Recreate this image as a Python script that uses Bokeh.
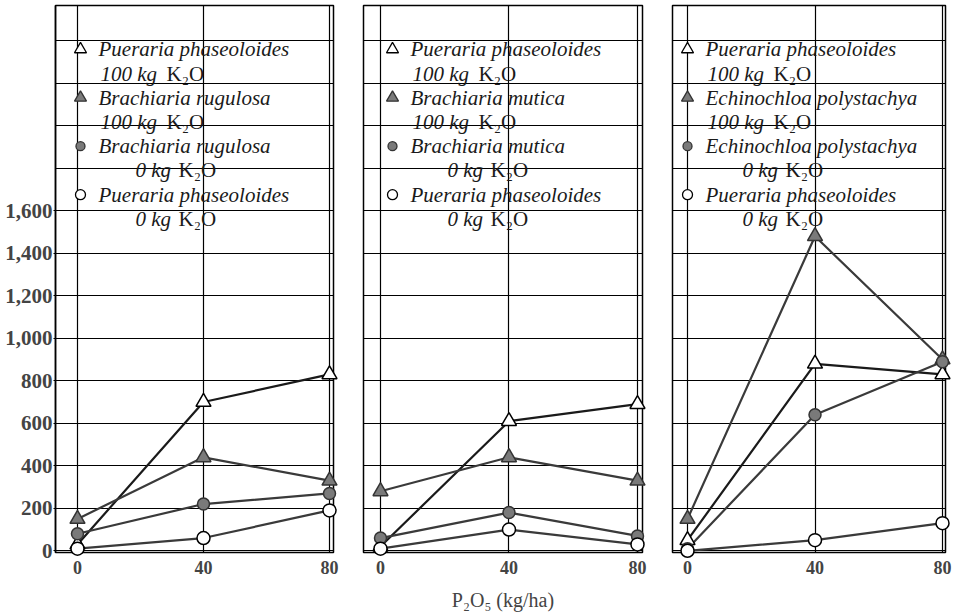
from bokeh.plotting import figure
from bokeh.layouts import row
from bokeh.models import Label, FixedTicker, NumeralTickFormatter, Range1d, Grid
from bokeh.embed import file_html
from bokeh.resources import INLINE

# ---------------- data ----------------
p2o5 = [0, 40, 80]
x_ticks = [0, 40, 80]
y_ticks = [0, 200, 400, 600, 800, 1000, 1200, 1400, 1600]
y_grid = [0, 200, 400, 600, 800, 1000, 1200, 1400, 1600, 1800, 2000, 2200, 2400]

pueraria_name = "Pueraria phaseoloides"
grass_names = ["Brachiaria rugulosa", "Brachiaria mutica", "Echinochloa polystachya"]

pueraria_k100 = [[30, 700, 830], [20, 610, 690], [50, 880, 830]]
grass_k100 = [[150, 440, 330], [280, 440, 330], [150, 1480, 900]]
grass_k0 = [[80, 220, 270], [60, 180, 70], [10, 640, 890]]
pueraria_k0 = [[10, 60, 190], [10, 100, 30], [0, 50, 130]]

k_rates = ["100 kg", "100 kg", "0 kg", "0 kg"]
x_label = "P\u2082O\u2085 (kg/ha)"
k2o = "K\u2082O"

# ---------------- styles ----------------
SERIF = "Liberation Serif"
TOP = 5
B = 61
H = TOP + 547 + B
styles = [
    dict(marker="triangle", fill_color="white", line_color="black", size=15),
    dict(marker="triangle", fill_color="#7a7a7a", line_color="#333333", size=15),
    dict(marker="circle", fill_color="#7a7a7a", line_color="#333333", size=12),
    dict(marker="circle", fill_color="white", line_color="black", size=13),
]
line_colors = ["#1a1a1a", "#3a3a3a", "#3a3a3a", "#3a3a3a"]

panels = [
    dict(width=348, bl=55, br=15, xr=(-6.98, 81.27), mk_px=3, show_y=True, show_xl=False, ppu=3.15),
    dict(width=309, bl=15, br=15, xr=(-5.29, 81.56), mk_px=12, show_y=False, show_xl=True, ppu=3.21),
    dict(width=296, bl=15, br=8, xr=(-4.71, 80.94), mk_px=0, show_y=False, show_xl=False, ppu=3.19),
]

legend_top = 2360
step = 114


def legend_label(p, y, xoff, text, style, background):
    kw = dict(x=0, y=y, x_offset=xoff, text=text, text_font=SERIF,
              text_font_style=style, text_font_size="21px", text_baseline="middle")
    if background:
        p.add_layout(Label(text_alpha=0.0, background_fill_color="white",
                           background_fill_alpha=1.0, padding=4, **kw))
    else:
        p.add_layout(Label(text_color="#1a1a1a", **kw))


figs = []
for i, cfg in enumerate(panels):
    p = figure(width=cfg["width"], height=H,
               x_range=Range1d(*cfg["xr"]), y_range=Range1d(-8, 2566),
               output_backend="svg", toolbar_location=None,
               min_border_left=cfg["bl"], min_border_right=cfg["br"],
               min_border_top=TOP, min_border_bottom=B,
               y_axis_location="left" if cfg["show_y"] else None)
    p.grid.visible = False
    p.outline_line_color = "black"
    p.outline_line_width = 1.5
    p.background_fill_color = "white"
    p.border_fill_color = "white"

    p.add_layout(Grid(dimension=0, ticker=FixedTicker(ticks=x_ticks),
                      grid_line_color="black", grid_line_width=1.2))
    p.add_layout(Grid(dimension=1, ticker=FixedTicker(ticks=y_grid),
                      grid_line_color="black", grid_line_width=1.2))

    # x axis
    xa = p.xaxis[0]
    xa.ticker = FixedTicker(ticks=x_ticks)
    xa.axis_line_color = None
    xa.major_tick_line_color = None
    xa.minor_tick_line_color = None
    xa.major_label_text_font = SERIF
    xa.major_label_text_font_style = "bold"
    xa.major_label_text_font_size = "18px"
    xa.major_label_standoff = 2
    if cfg["show_xl"]:
        xa.axis_label = x_label
        xa.axis_label_text_font = SERIF
        xa.axis_label_text_font_style = "normal"
        xa.axis_label_text_font_size = "20px"
        xa.axis_label_standoff = 12

    if cfg["show_y"]:
        ya = p.yaxis[0]
        ya.ticker = FixedTicker(ticks=y_ticks)
        ya.formatter = NumeralTickFormatter(format="0,0")
        ya.axis_line_color = "black"
        ya.axis_line_width = 1.5
        ya.major_tick_in = 0
        ya.major_tick_out = 2
        ya.major_tick_line_color = "black"
        ya.minor_tick_line_color = None
        ya.major_label_text_font = SERIF
        ya.major_label_text_font_style = "bold"
        ya.major_label_text_font_size = "21px"
        ya.major_label_standoff = 1

    series = [pueraria_k100[i], grass_k100[i], grass_k0[i], pueraria_k0[i]]
    names = [pueraria_name, grass_names[i], grass_names[i], pueraria_name]

    for s, c in zip(series, line_colors):
        p.line(p2o5, s, line_color=c, line_width=2.2, level="overlay")
    for s, st in zip(series, styles):
        p.scatter(p2o5, s, marker=st["marker"], size=st["size"], fill_color=st["fill_color"],
                  line_color=st["line_color"], line_width=1.5, level="overlay")

    # legend: backgrounds first, then texts
    mk_x = cfg["mk_px"] / cfg["ppu"]
    off = cfg["mk_px"]
    for bg in (True, False):
        for k in range(4):
            yname = legend_top - 2 * k * step
            yrate = yname - step
            if k < 2:
                rate_off, k_gap = 20, 66
            else:
                rate_off, k_gap = 55, 43
            legend_label(p, yname, off + 18, names[k], "italic", bg)
            legend_label(p, yrate, off + rate_off, k_rates[k], "italic", bg)
            legend_label(p, yrate, off + rate_off + k_gap, k2o, "normal", bg)
    for k in range(4):
        yname = legend_top - 2 * k * step
        st = styles[k]
        p.scatter([mk_x], [yname], marker=st["marker"], size=st["size"] - 3,
                  fill_color=st["fill_color"], line_color=st["line_color"], line_width=1.3,
                  level="overlay")
    figs.append(p)

layout = row(*figs)
open("out.html", "w").write(file_html(layout, INLINE))
